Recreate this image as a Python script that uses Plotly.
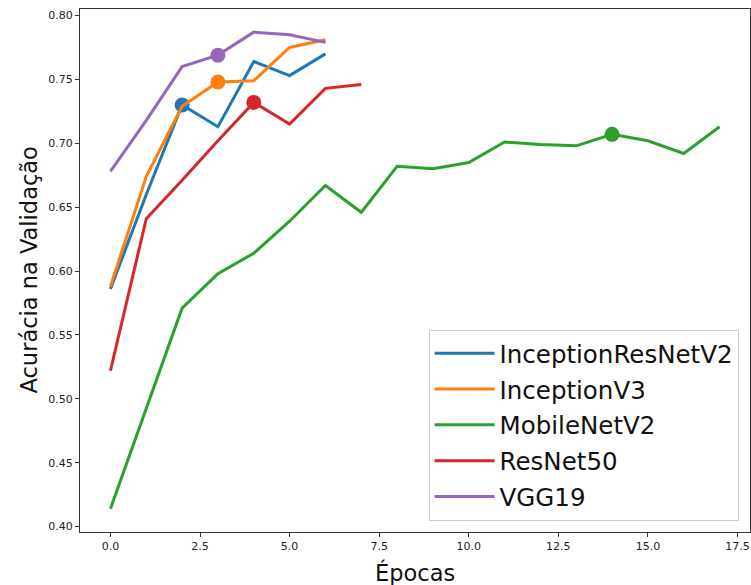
import plotly.graph_objects as go

# Data
epochs_short = [0, 1, 2, 3, 4, 5, 6]
epochs_resnet = [0, 1, 2, 3, 4, 5, 6, 7]
epochs_mobile = list(range(18))

inception_resnet_v2 = [0.586, 0.660, 0.730, 0.713, 0.764, 0.753, 0.770]
inception_v3 = [0.588, 0.674, 0.729, 0.748, 0.749, 0.775, 0.781]
mobilenet_v2 = [0.414, 0.492, 0.571, 0.598, 0.614, 0.639, 0.667, 0.646,
                0.682, 0.680, 0.685, 0.701, 0.699, 0.698, 0.707, 0.702,
                0.692, 0.713]
resnet50 = [0.522, 0.641, 0.671, 0.702, 0.732, 0.715, 0.743, 0.746]
vgg19 = [0.678, 0.718, 0.760, 0.769, 0.787, 0.785, 0.779]

# best epoch markers
best_epoch = {"InceptionResNetV2": 2, "InceptionV3": 3, "MobileNetV2": 14,
              "ResNet50": 4, "VGG19": 3}

series = [
    ("InceptionResNetV2", epochs_short, inception_resnet_v2, "#1f77b4"),
    ("InceptionV3", epochs_short, inception_v3, "#ff7f0e"),
    ("MobileNetV2", epochs_mobile, mobilenet_v2, "#2ca02c"),
    ("ResNet50", epochs_resnet, resnet50, "#d62728"),
    ("VGG19", epochs_short, vgg19, "#9467bd"),
]

fig = go.Figure()
for name, xs, ys, color in series:
    fig.add_trace(go.Scatter(x=xs, y=ys, mode="lines", name=name,
                             line=dict(color=color, width=3),
                             legendgroup=name))
    be = best_epoch[name]
    fig.add_trace(go.Scatter(x=[xs[be]], y=[ys[be]], mode="markers",
                             marker=dict(color=color, size=15),
                             showlegend=False, hoverinfo="skip"))

axis_common = dict(
    showgrid=False, zeroline=False, showline=True, linecolor="#333333",
    linewidth=1, mirror=True, ticks="outside", ticklen=4, tickcolor="#333333",
    tickfont=dict(family="DejaVu Sans", size=11, color="#222222"),
)

fig.update_xaxes(range=[-0.85, 17.85], dtick=2.5, tick0=0, tickformat=".1f",
                 **axis_common)
fig.update_yaxes(range=[0.3958, 0.8051], dtick=0.05, tick0=0.4,
                 tickformat=".2f", **axis_common)

fig.add_annotation(text="Épocas", xref="paper", yref="paper", x=0.5, y=0,
                   yshift=-40, yanchor="middle", showarrow=False,
                   font=dict(family="DejaVu Sans", size=22.5, color="#111111"))
fig.add_annotation(text="Acurácia na Validação", xref="paper", yref="paper",
                   x=0, y=0.5, xshift=-52, textangle=-90, xanchor="center",
                   showarrow=False,
                   font=dict(family="DejaVu Sans", size=22.5, color="#111111"))

fig.update_layout(
    width=751, height=585,
    margin=dict(l=80, r=1, t=9, b=53),
    paper_bgcolor="white", plot_bgcolor="white",
    showlegend=True,
    legend=dict(x=0.983, y=0.0216, xanchor="right", yanchor="bottom",
                bgcolor="rgba(255,255,255,0.8)", bordercolor="#cccccc",
                borderwidth=1, tracegroupgap=1, itemwidth=60,
                font=dict(family="DejaVu Sans", size=24.5, color="#111111")),
)

fig.write_html("out.html", config={"displayModeBar": False},
               post_script="document.body.style.margin='0';")
